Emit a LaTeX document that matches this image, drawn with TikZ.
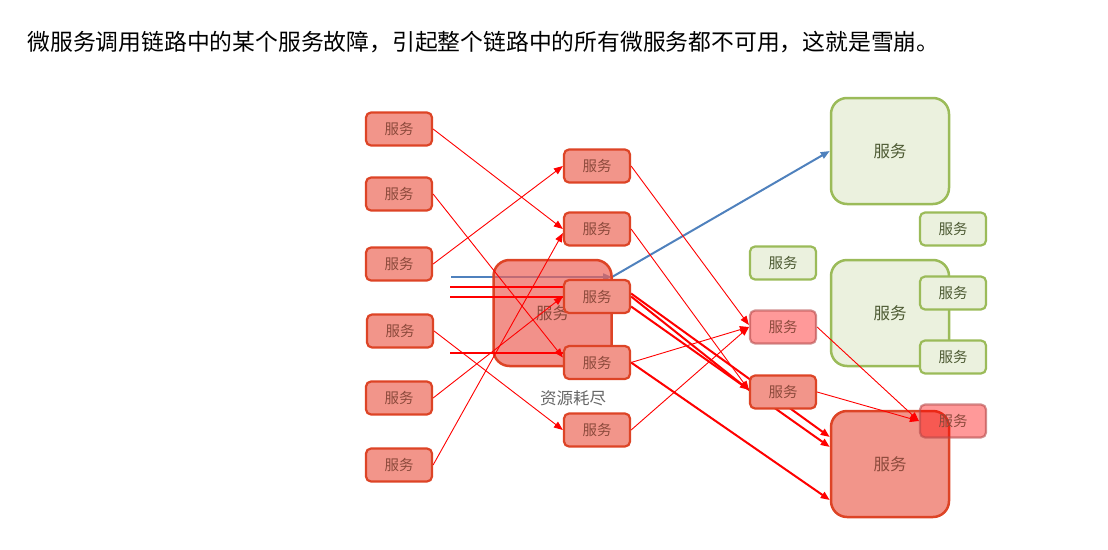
\documentclass[tikz,border=0pt]{standalone}
\usepackage{fontspec}
\setmainfont{Liberation Serif}
\newfontfamily\cjk{Noto Sans CJK SC}
\usetikzlibrary{arrows.meta}
\definecolor{redfill}{HTML}{F2958A}
\definecolor{xfill}{HTML}{EC6258}
\definecolor{redline}{HTML}{DD4426}
\definecolor{redtext}{HTML}{8C4A3C}
\definecolor{greenfill}{HTML}{EBF1DE}
\definecolor{greenline}{HTML}{9BBB59}
\definecolor{greentext}{HTML}{4D5A33}
\definecolor{pinkline}{HTML}{B54848}
\definecolor{bluel}{HTML}{4F81BD}
\definecolor{graytext}{HTML}{666666}
\pgfdeclarelayer{back}
\pgfdeclarelayer{mid}
\pgfdeclarelayer{lines}
\pgfdeclarelayer{top}
\pgfsetlayers{back,mid,lines,main,top}
\begin{document}
\begin{tikzpicture}[x=1pt,y=-1pt,
 svc/.style={rectangle, rounded corners=5pt, minimum width=66pt, minimum height=33pt, line width=2.2pt, font=\cjk\fontsize{14.5}{16}\selectfont, inner sep=0pt},
 redsvc/.style={svc, draw=redline, fill=redfill, text=redtext},
 greensvc/.style={svc, draw=greenline, fill=greenfill, text=greentext},
 pinksvc/.style={svc, draw=pinkline, draw opacity=0.6, fill=red, fill opacity=0.4, text opacity=1, text=redtext},
 bigsvc/.style={rectangle, rounded corners=16pt, minimum width=118pt, minimum height=106pt, line width=2.5pt, font=\cjk\fontsize{16.5}{18}\selectfont, inner sep=0pt},
 callthin/.style={draw=red, line width=0.9pt, -{Triangle[length=9pt,width=7pt]}},
 callthick/.style={draw=red, line width=2pt, -{Triangle[length=9pt,width=7pt]}},
 bluecall/.style={draw=bluel, line width=2pt, -{Triangle[length=9pt,width=7pt]}},
]
\useasboundingbox (0,0) rectangle (1108,549);

\node[anchor=west, font=\cjk\fontsize{22.8}{26}\selectfont] (title) at (24,42) {微服务调用链路中的某个服务故障，引起整个链路中的所有微服务都不可用，这就是雪崩。};

\begin{pgfonlayer}{back}
% green services
\node[bigsvc, draw=greenline, fill=greenfill, text=greentext] (GB1) at (890,151) {服务\hspace{10pt}};
\node[bigsvc, draw=greenline, fill=greenfill, text=greentext] (GB2) at (890,313) {服务\hspace{10pt}};
\node[greensvc] (G1) at (783,263) {服务};
\node[greensvc] (G2) at (953,229) {服务};
\node[greensvc] (G3) at (953,293) {服务};
\node[greensvc] (G4) at (953,357) {服务};
% big failing service at right
\node[bigsvc, draw=redline, fill=redfill, text=redtext] (RB) at (890,464) {服务\hspace{10pt}};
\end{pgfonlayer}

\begin{pgfonlayer}{mid}
% resource exhausted service
\node[bigsvc, draw=redline, fill=xfill, fill opacity=0.7, text opacity=1, text=redtext] (X) at (552.5,313) {服务\hspace{10pt}};
\end{pgfonlayer}
\node[font=\cjk\fontsize{16.5}{18}\selectfont, text=graytext] (lbl) at (573,398) {资源耗尽};

% left column
\node[redsvc] (L1) at (399,129) {服务};
\node[redsvc] (L2) at (399,194) {服务};
\node[redsvc] (L3) at (399,264) {服务};
\node[redsvc] (L4) at (400,331) {服务};
\node[redsvc] (L5) at (399,398) {服务};
\node[redsvc] (L6) at (399,465) {服务};

% middle column
\node[redsvc] (M1) at (597,166) {服务};
\node[redsvc] (M2) at (597,229) {服务};
\node[redsvc] (M3) at (597,296.5) {服务};
\node[redsvc] (M4) at (597,362.5) {服务};
\node[redsvc] (M5) at (597,430) {服务};

% right-middle column
\node[pinksvc] (P1) at (783,327) {服务};
\node[redsvc] (P2) at (783,392) {服务};
\begin{pgfonlayer}{top}
\node[pinksvc] (P3) at (953,421) {服务};
\end{pgfonlayer}

% blue call (under the exhausted service)
\coordinate (b0) at (451,277);
\coordinate (b1) at (612,277);
\begin{pgfonlayer}{back}
\draw[bluecall] (b0) -- (b1);
\draw[bluecall] (b1) -- (GB1.west);
\end{pgfonlayer}

% incoming red calls
\coordinate (h1) at (450,287);
\coordinate (h2) at (450,297);
\coordinate (h3) at (450,353);

\begin{pgfonlayer}{lines}
\draw[red, line width=2pt] (h1) -- (h1 -| M3.west);
\draw[red, line width=2pt] (h2) -- (h2 -| M3.west);
\draw[red, line width=2pt] (h3) -- (h3 -| M4.west);

\draw[callthin] (L1.east) -- (M2.west);
\draw[callthin] (L2.east) -- ([yshift=5pt]M4.west);
\draw[callthin] (L3.east) -- (M1.west);
\draw[callthin] (L4.east) -- (M5.west);
\draw[callthin] (L5.east) -- (M3.west);
\draw[callthin] (L6.east) -- ([yshift=-4pt]M2.west);

\draw[callthin] (M1.east) -- ([yshift=2pt]P1.west);
\draw[callthin] (M2.east) -- ([yshift=2pt]P2.west);
\draw[callthick] (M3.east) -- ([yshift=2pt]P2.west);
\draw[callthick] ([yshift=3pt]M3.east) -- ([yshift=27pt]RB.west);
\draw[callthick] ([yshift=-10pt]M3.east) -- ([yshift=17pt]RB.west);
\draw[callthick] (M4.east) -- ([yshift=-36pt]RB.west);
\draw[callthin] (M4.east) -- (P1.west);
\draw[callthin] (M5.east) -- (P1.west);
\draw[callthin] (P1.east) -- (P3.west);
\draw[callthin] (P2.east) -- (P3.west);
\end{pgfonlayer}
\end{tikzpicture}
\end{document}
